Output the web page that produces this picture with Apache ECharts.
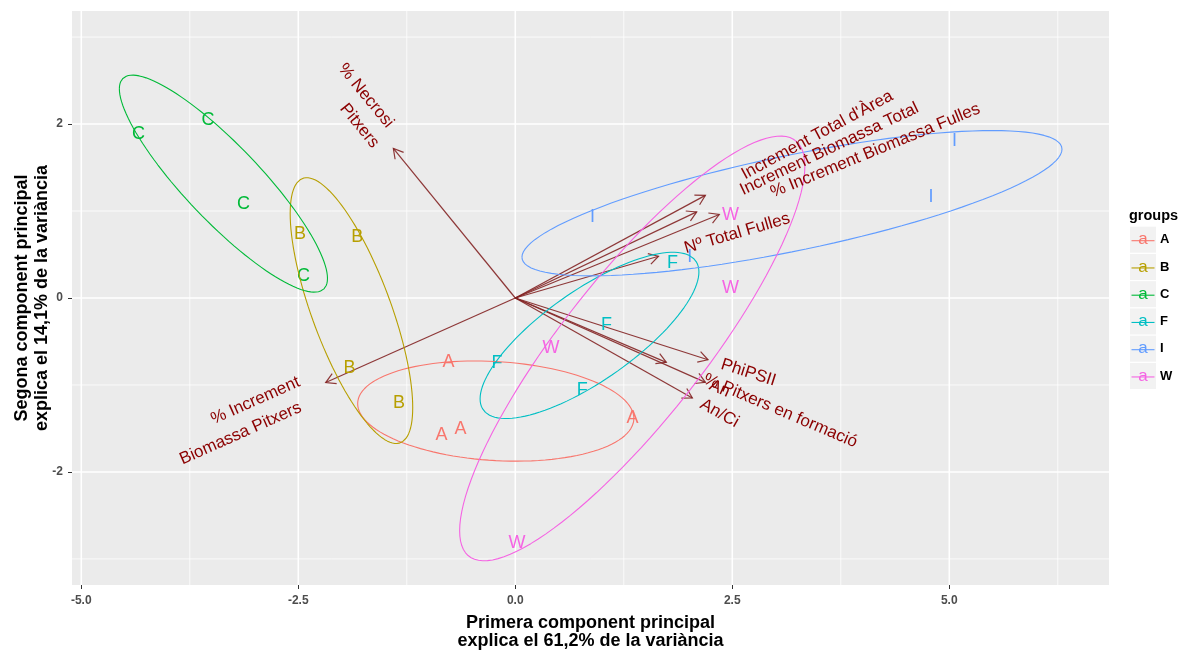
<!DOCTYPE html>
<html><head><meta charset="utf-8">
<script src="https://cdn.jsdelivr.net/npm/echarts@6/dist/echarts.min.js"></script>
<style>html,body{margin:0;padding:0;background:#fff}#chart{width:1186px;height:651px}</style>
</head><body><div id="chart"></div>
<script>
// ---------------- data ----------------
const groupNames  = ['A','B','C','F','I','W'];
const groupColors = ['#F8766D','#B79F00','#00BA38','#00BFC4','#619CFF','#F564E3'];

const obsGroup = ['A','A','A','A','B','B','B','B','C','C','C','C','F','F','F','F','I','I','I','I','W','W','W','W'];
const obsPC1 = [-0.77,-0.85,-0.63, 1.35, -2.48,-1.82,-1.91,-1.34, -4.34,-3.54,-3.13,-2.44, -0.21, 0.77, 1.05, 1.81,  0.89, 5.06, 4.79, 2.01,  2.48, 2.48, 0.41, 0.02];
const obsPC2 = [-0.74,-1.57,-1.51,-1.38,  0.74, 0.70,-0.81,-1.21,  1.88, 2.05, 1.08, 0.25, -0.75,-1.06,-0.31, 0.40,  0.93, 1.80, 1.16, 0.47,  0.95, 0.12,-0.57,-2.82];

const varNames = ['% Necrosi\nPitxers', '% Increment\nBiomassa Pitxers', "Increment Total d'Àrea", 'Increment Biomassa Total',
                  '% Increment Biomassa Fulles', 'Nº Total Fulles', 'PhiPSII', '% Pitxers en formació', 'An', 'An/Ci'];
const varPC1 = [-1.405,-2.184, 2.19, 2.09, 2.35, 1.65, 2.22, 1.74, 2.19, 2.04];
const varPC2 = [ 1.72, -0.972, 1.18, 0.99, 0.96, 0.48,-0.71,-0.74,-0.97,-1.15];

const xMajor = [-5, -2.5, 0, 2.5, 5];
const xMinor = [-3.75, -1.25, 1.25, 3.75, 6.25];
const yMajor = [-2, 0, 2];
const yMinor = [-3, -1, 1, 3];
const xLimits = [-5.107, 6.84];
const yLimits = [-3.30, 3.30];
const ellipseProb = 0.68;

const xTitle = 'Primera component principal\nexplica el 61,2% de la variància';
const yTitle = 'Segona component principal\nexplica el 14,1% de la variància';
const legendTitle = 'groups';

// ---------------- helpers ----------------
const FONT = '"Liberation Sans", Arial, Helvetica, sans-serif';
const arrowColor = '#832424';
const labelFont = '17px ' + FONT;
const LH = 24;
const mctx = document.createElement('canvas').getContext('2d');
function measure(t, font) { mctx.font = font || labelFont; return mctx.measureText(t).width; }

// ggbiplot-style normal-probability ellipse from group points
function groupEllipse(g) {
  const xs = [], ys = [];
  obsGroup.forEach((gg, i) => { if (gg === g) { xs.push(obsPC1[i]); ys.push(obsPC2[i]); } });
  const n = xs.length;
  const mx = xs.reduce((a, b) => a + b, 0) / n, my = ys.reduce((a, b) => a + b, 0) / n;
  let sxx = 0, syy = 0, sxy = 0;
  for (let i = 0; i < n; i++) { sxx += (xs[i]-mx)**2; syy += (ys[i]-my)**2; sxy += (xs[i]-mx)*(ys[i]-my); }
  sxx /= (n-1); syy /= (n-1); sxy /= (n-1);
  const r11 = Math.sqrt(sxx), r12 = sxy / r11, r22 = Math.sqrt(Math.max(syy - r12*r12, 0));
  const ed = Math.sqrt(-2 * Math.log(1 - ellipseProb)); // qchisq(p, 2)
  const pts = [];
  const N = 120;
  for (let k = 0; k <= N; k++) {
    const th = -Math.PI + 2*Math.PI*k/N;
    const c = Math.cos(th), s = Math.sin(th);
    pts.push([mx + ed*(c*r11), my + ed*(c*r12 + s*r22)]);
  }
  return pts;
}

// ---------------- series ----------------
const gridData = [];
xMajor.forEach(v => gridData.push([v, 1, 1]));
xMinor.forEach(v => gridData.push([v, 1, 0]));
yMajor.forEach(v => gridData.push([v, 0, 1]));
yMinor.forEach(v => gridData.push([v, 0, 0]));

const series = [];
series.push({
  type: 'custom', silent: true, z: 1,
  data: gridData,
  encode: { x: -1, y: -1 },
  renderItem: function (params, api) {
    const cs = params.coordSys;
    const v = api.value(0), isX = api.value(1), major = api.value(2);
    let shape;
    if (isX) { const p = api.coord([v, 0]); shape = { x1: p[0], y1: cs.y, x2: p[0], y2: cs.y + cs.height }; }
    else { const p = api.coord([0, v]); shape = { x1: cs.x, y1: p[1], x2: cs.x + cs.width, y2: p[1] }; }
    return { type: 'line', shape: shape, style: { stroke: '#FFFFFF', lineWidth: major ? 1.6 : 0.8 } };
  }
});

// arrows
series.push({
  type: 'custom', silent: true, z: 3,
  data: varPC1.map((x, i) => [x, varPC2[i], i]),
  renderItem: function (params, api) {
    const x = api.value(0), y = api.value(1);
    const o = api.coord([0, 0]), t = api.coord([x, y]);
    const ang = Math.atan2(t[1]-o[1], t[0]-o[0]);
    const L = 11, a = Math.PI/6;
    const p1 = [t[0]-L*Math.cos(ang-a), t[1]-L*Math.sin(ang-a)];
    const p2 = [t[0]-L*Math.cos(ang+a), t[1]-L*Math.sin(ang+a)];
    return { type: 'group', children: [
      { type: 'line', shape: { x1: o[0], y1: o[1], x2: t[0], y2: t[1] }, style: { stroke: arrowColor, lineWidth: 1.2, opacity: 0.9 } },
      { type: 'polyline', shape: { points: [p1, t, p2] }, style: { stroke: arrowColor, lineWidth: 1.2, fill: null, opacity: 0.9 } }
    ] };
  }
});

// observation labels
groupNames.forEach((g, gi) => {
  const d = [];
  obsGroup.forEach((gg, i) => { if (gg === g) d.push([obsPC1[i], obsPC2[i]]); });
  series.push({
    type: 'custom', silent: true, z: 4, name: g,
    data: d,
    renderItem: function (params, api) {
      const p = api.coord([api.value(0), api.value(1)]);
      return { type: 'text', x: p[0], y: p[1], style: { text: g, align: 'center', verticalAlign: 'middle', fill: groupColors[gi], font: '18px ' + FONT } };
    }
  });
});

// ellipses
groupNames.forEach((g, gi) => {
  series.push({
    type: 'line', z: 5, silent: true, showSymbol: false, symbol: 'none', animation: false,
    data: groupEllipse(g),
    lineStyle: { color: groupColors[gi], width: 1.1 }
  });
});

// variable names
series.push({
  type: 'custom', silent: true, z: 6,
  data: varPC1.map((x, i) => [x, varPC2[i], i]),
  renderItem: function (params, api) {
    const x = api.value(0), y = api.value(1), i = api.value(2);
    const t = api.coord([x, y]);
    const rot = Math.atan(y / x);
    const lines = varNames[i].split('\n');
    const n = lines.length;
    const right = x < 0;
    const children = lines.map((ln, k) => {
      const w = measure(ln);
      return { type: 'text', x: t[0], y: t[1], rotation: rot,
        style: { text: ln, x: right ? -0.25*w : 0.25*w, y: (k - (n-1)/2) * LH,
                 align: right ? 'right' : 'left', verticalAlign: 'middle', fill: '#8B0000', font: labelFont } };
    });
    return { type: 'group', children: children };
  }
});

// legend + y title (graphic)
const graphics = [
  { type: 'text', x: 32, y: 298, rotation: Math.PI / 2,
    style: { text: yTitle, align: 'center', verticalAlign: 'middle', font: 'bold 18px ' + FONT, lineHeight: 20, fill: '#000' } },
  { type: 'text', x: 1129, y: 216, style: { text: legendTitle, font: 'bold 14.5px ' + FONT, fill: '#000', verticalAlign: 'middle' } }
];
groupNames.forEach((g, i) => {
  const y0 = 226.7 + i * 27.25;
  graphics.push({ type: 'rect', shape: { x: 1130, y: y0, width: 26, height: 26 }, style: { fill: '#F2F2F2' } });
  graphics.push({ type: 'line', shape: { x1: 1131.5, y1: y0 + 14, x2: 1154.5, y2: y0 + 14 }, style: { stroke: groupColors[i], lineWidth: 1.1 } });
  graphics.push({ type: 'text', x: 1143, y: y0 + 13, style: { text: 'a', align: 'center', verticalAlign: 'middle', font: '17px ' + FONT, fill: groupColors[i] } });
  graphics.push({ type: 'text', x: 1160, y: y0 + 13, style: { text: g, verticalAlign: 'middle', font: 'bold 13px ' + FONT, fill: '#000' } });
});

const chart = echarts.init(document.getElementById('chart'), null, { renderer: 'canvas' });
chart.setOption({
  animation: false,
  backgroundColor: '#FFFFFF',
  textStyle: { fontFamily: FONT },
  grid: { left: 72, top: 11, width: 1037, height: 574, show: true, backgroundColor: '#EBEBEB', borderWidth: 0,
          containLabel: false, outerBoundsMode: 'none' },
  xAxis: {
    type: 'value', min: xLimits[0], max: xLimits[1],
    axisLine: { show: false, onZero: false },
    axisTick: { show: true, length: 4, lineStyle: { color: '#333333', width: 1 }, customValues: xMajor },
    axisLabel: { customValues: xMajor, margin: 10, fontSize: 12, fontWeight: 'bold', color: '#4D4D4D', fontFamily: FONT,
                 formatter: v => v.toFixed(1) },
    splitLine: { show: false },
    name: xTitle, nameLocation: 'middle', nameGap: 29,
    nameTextStyle: { fontSize: 18, fontWeight: 'bold', color: '#000', lineHeight: 18, fontFamily: FONT }
  },
  yAxis: {
    type: 'value', min: yLimits[0], max: yLimits[1],
    axisLine: { show: false, onZero: false },
    axisTick: { show: true, length: 4, lineStyle: { color: '#333333', width: 1 }, customValues: yMajor },
    axisLabel: { customValues: yMajor, margin: 9, fontSize: 12, fontWeight: 'bold', color: '#4D4D4D', fontFamily: FONT,
                 formatter: v => String(v) },
    splitLine: { show: false }
  },
  graphic: graphics,
  series: series
});
</script></body></html>
